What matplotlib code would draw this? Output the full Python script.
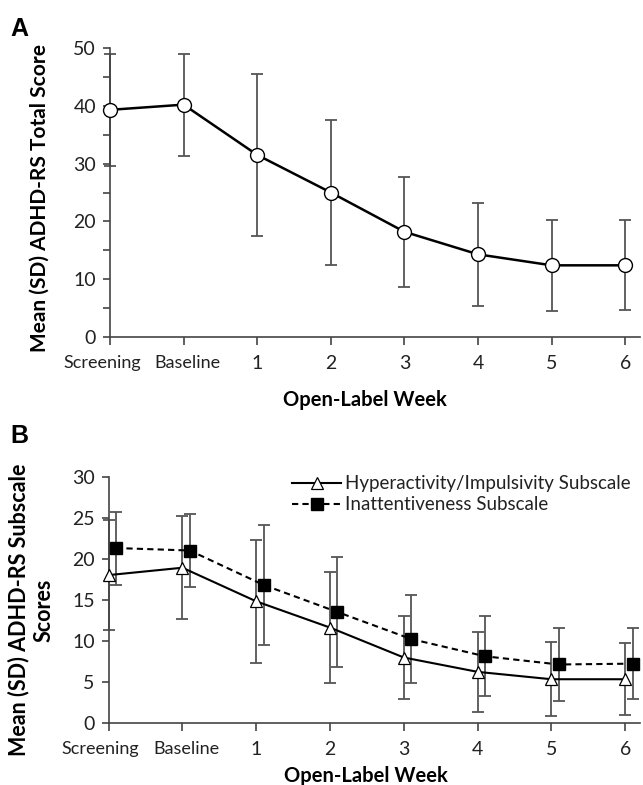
import matplotlib
matplotlib.use("Agg")
import matplotlib.pyplot as plt
import numpy as np
from matplotlib.ticker import MultipleLocator
from matplotlib.transforms import ScaledTranslation

plt.rcParams['font.family'] = ['Lato', 'DejaVu Sans']

categories = ["Screening", "Baseline", "1", "2", "3", "4", "5", "6"]

total_mean = [39.3, 40.2, 31.5, 25.0, 18.2, 14.3, 12.4, 12.4]
total_sd = [9.7, 8.8, 14.0, 12.6, 9.5, 8.9, 7.9, 7.8]

hyper_mean = [18.0, 18.9, 14.8, 11.6, 7.95, 6.2, 5.3, 5.3]
hyper_sd = [6.7, 6.3, 7.5, 6.8, 5.05, 4.9, 4.5, 4.4]

inatt_mean = [21.3, 21.0, 16.8, 13.5, 10.2, 8.1, 7.1, 7.2]
inatt_sd = [4.45, 4.5, 7.3, 6.7, 5.4, 4.9, 4.4, 4.3]

legend_labels = ["Hyperactivity/Impulsivity Subscale", "Inattentiveness Subscale"]

W, H = 643, 785
fig = plt.figure(figsize=(W / 100, H / 100), dpi=100)

def fx(px):
    return px / W

def fy(py):
    return 1 - py / H

axis_col = "#444444"
err_col = "#555555"
txt_col = "#222222"

def style_axis(ax, ymax, major, minor):
    for s in ["top", "right"]:
        ax.spines[s].set_visible(False)
    for s in ["left", "bottom"]:
        ax.spines[s].set_color(axis_col)
        ax.spines[s].set_linewidth(1.2)
    ax.set_xlim(0, 7.2)
    ax.set_ylim(0, ymax)
    ax.set_xticks(np.arange(len(categories)))
    ax.set_xticklabels(categories)
    ax.tick_params(axis="x", direction="out", length=6, width=1.2, color=axis_col, pad=7)
    ax.tick_params(axis="y", which="major", direction="out", length=5, width=1.2,
                   color=axis_col, labelsize=14, labelcolor=txt_col, pad=5)
    ax.tick_params(axis="y", which="minor", direction="out", length=5, width=1.2, color=axis_col)
    for i, lab in enumerate(ax.get_xticklabels()):
        lab.set_fontsize(13 if i < 2 else 14)
        lab.set_color(txt_col)
        if i == 0:
            lab.set_transform(lab.get_transform() + ScaledTranslation(-8 / 100, 0, fig.dpi_scale_trans))
        if i == 1:
            lab.set_transform(lab.get_transform() + ScaledTranslation(4 / 100, 0, fig.dpi_scale_trans))
    ax.yaxis.set_major_locator(MultipleLocator(major))
    ax.yaxis.set_minor_locator(MultipleLocator(minor))

x = np.arange(len(categories))

# Panel A
axA = fig.add_axes([fx(110), fy(337), fx(640) - fx(110), fy(48) - fy(337)])
style_axis(axA, 50, 10, 5)
axA.errorbar(x, total_mean, yerr=total_sd, fmt="none", ecolor=err_col, elinewidth=1.3,
             capsize=4, capthick=1.3, zorder=2, clip_on=False)
axA.plot(x, total_mean, color="black", lw=1.8, marker="o", markersize=10,
         markerfacecolor="white", markeredgecolor="black", markeredgewidth=1.0,
         zorder=3, clip_on=False)
axA.set_ylabel("Mean (SD) ADHD-RS Total Score", fontsize=15, fontweight="bold", va="center")
axA.yaxis.set_label_coords((40 - 110) / 530, (337 - 198) / 289)
axA.set_xlabel("Open-Label Week", fontsize=14.5, fontweight="bold")
axA.xaxis.set_label_coords((365 - 110) / 530, -(400 - 337) / 289)
axA.xaxis.label.set_va("center")
fig.text(fx(10), fy(29), "A", fontsize=18, fontweight="bold", family="Liberation Sans",
         va="center", ha="left")

# Panel B
axB = fig.add_axes([fx(108.6), fy(722.7), fx(640) - fx(108.6), fy(476.7) - fy(722.7)])
style_axis(axB, 30, 5, 5)
xb = x + 0.1
axB.errorbar(x, hyper_mean, yerr=hyper_sd, fmt="none", ecolor=err_col, elinewidth=1.3,
             capsize=4, capthick=1.3, zorder=2, clip_on=False)
axB.errorbar(xb, inatt_mean, yerr=inatt_sd, fmt="none", ecolor=err_col, elinewidth=1.3,
             capsize=4, capthick=1.3, zorder=2, clip_on=False)
l1, = axB.plot(x, hyper_mean, color="black", lw=1.5, marker="^", markersize=9,
               markerfacecolor="white", markeredgecolor="black", markeredgewidth=0.9,
               zorder=3, clip_on=False, label=legend_labels[0])
l2, = axB.plot(xb, inatt_mean, color="black", lw=1.5, ls=(0, (3, 2)), marker="s", markersize=9,
               markerfacecolor="black", markeredgecolor="black",
               zorder=3, clip_on=False, label=legend_labels[1])
axB.set_ylabel("Mean (SD) ADHD-RS Subscale\nScores", fontsize=15.5, fontweight="bold",
               linespacing=1.2, va="center")
axB.yaxis.set_label_coords((31 - 108.6) / 531.4, (722.7 - 610) / 246)
axB.set_xlabel("Open-Label Week", fontsize=14.5, fontweight="bold")
axB.xaxis.set_label_coords((366 - 108.6) / 531.4, -(776 - 722.7) / 246)
axB.xaxis.label.set_va("center")
axB.legend(handles=[l1, l2], loc="upper left",
           bbox_to_anchor=((283 - 108.6) / 531.4, 1 + (476.7 - 466) / 246),
           frameon=False, fontsize=13.5, handlelength=2.6, handletextpad=0.2,
           labelspacing=0.2, borderpad=0, labelcolor=txt_col)
fig.text(fx(10), fy(436), "B", fontsize=18, fontweight="bold", family="Liberation Sans",
         va="center", ha="left")

fig.savefig("out.png", dpi=100)
